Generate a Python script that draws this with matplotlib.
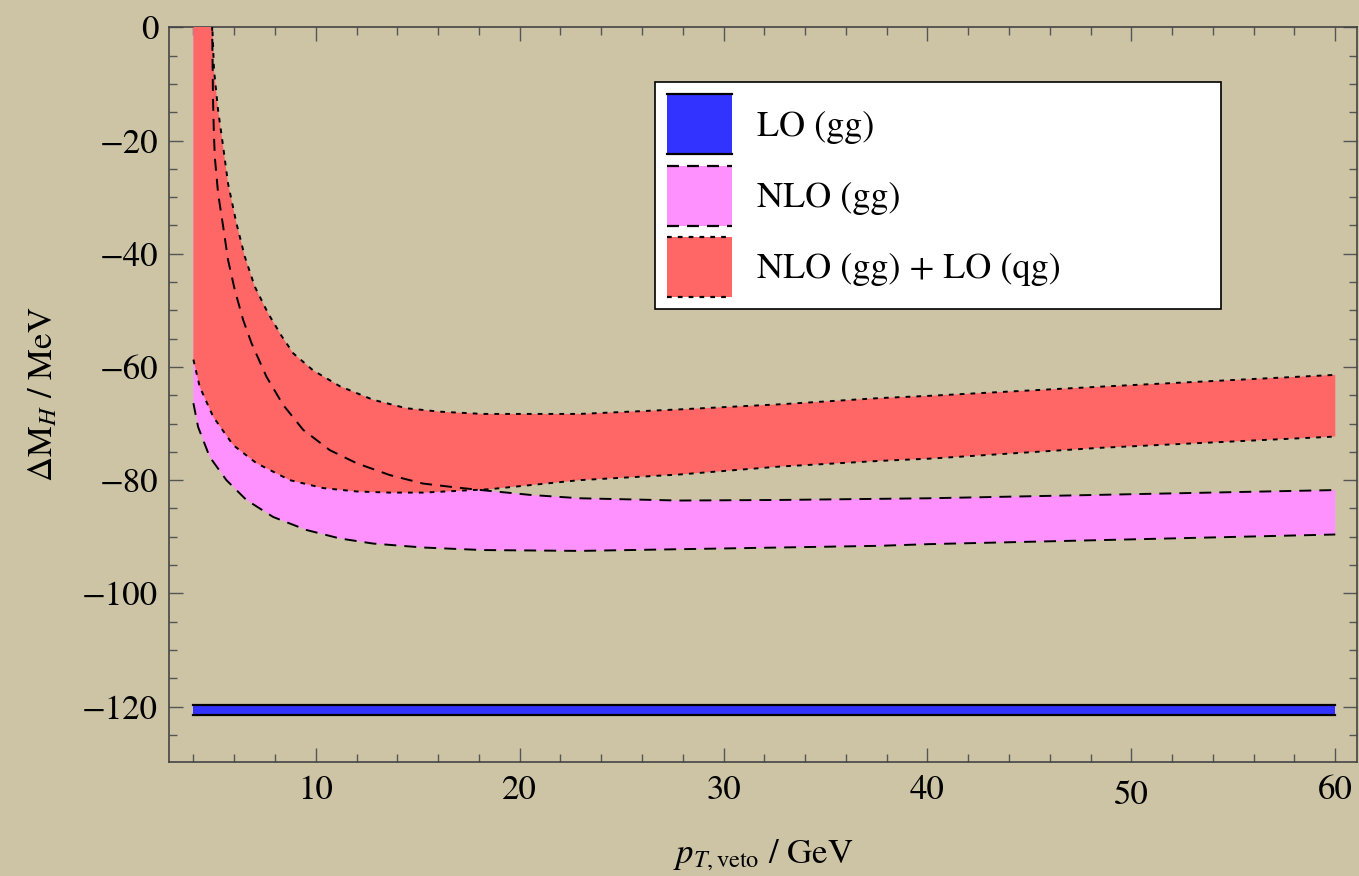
import numpy as np
import matplotlib
matplotlib.use("Agg")
import matplotlib.pyplot as plt
from matplotlib.patches import Rectangle
from matplotlib.lines import Line2D
from matplotlib.legend_handler import HandlerBase
from matplotlib.ticker import MultipleLocator

plt.rcParams['font.family'] = ['STIXGeneral', 'DejaVu Serif']
plt.rcParams['mathtext.fontset'] = 'stix'
plt.rcParams['lines.scale_dashes'] = False

# ---------------- data ----------------
# LO (gg) band
lo_x = [4.0, 60.0]
lo_upper = [-119.7, -119.7]
lo_lower = [-121.5, -121.5]

# NLO (gg) band: upper edge (long dash)
nlo_up_x = [4.0, 4.92, 4.96, 5.0, 5.05, 5.21, 5.46, 5.70, 6.03, 6.44, 6.85, 7.58, 8.40,
            9.38, 10.69, 12.0, 13.63, 15.26, 16.9, 18.53, 20.5, 22.94, 27.84,
            32.75, 37.65, 40.1, 48.4, 60.0]
nlo_up_y = [40.0, 0.0, -12.3, -18.1, -22.9, -29.3, -35.2, -41.1, -46.4, -51.7, -55.8, -61.7, -66.7,
            -71.1, -74.7, -77.0, -79.1, -80.6, -81.3, -81.9, -82.6, -83.2, -83.6,
            -83.5, -83.3, -83.2, -82.6, -81.75]
# NLO (gg) band: lower edge (long dash)
nlo_lo_x = [4.0, 4.23, 4.80, 5.62, 6.60, 7.91, 9.54, 11.18, 12.81, 15.26, 18.2, 22.94,
            27.84, 32.75, 37.65, 40.1, 48.4, 60.0]
nlo_lo_y = [-66.4, -70.6, -75.9, -80.0, -83.5, -86.5, -88.8, -90.3, -91.2, -91.9, -92.35, -92.5,
            -92.2, -91.9, -91.6, -91.3, -90.6, -89.6]

# NLO (gg) + LO (qg) band: upper edge (short dash)
qg_up_x = [4.0, 4.93, 5.01, 5.21, 5.46, 5.70, 6.11, 6.52, 7.01, 7.66, 8.32, 8.90, 9.87,
           11.18, 12.81, 14.45, 16.08, 18.2, 22.94, 27.84, 32.75, 37.65, 40.1, 48.4, 60.0]
qg_up_y = [40.0, 0.0, -7.5, -14.6, -21.1, -27.6, -34.6, -40.5, -45.8, -50.5, -54.5, -57.6, -60.6,
           -63.4, -65.8, -67.3, -67.9, -68.3, -68.3, -67.5, -66.6, -65.5, -65.1, -63.5, -61.4]
# NLO (gg) + LO (qg) band: lower edge (short dash)
qg_lo_x = [4.0, 4.31, 4.97, 5.95, 7.09, 8.73, 10.36, 12.0, 13.63, 15.26, 16.9, 18.53,
           22.94, 27.84, 32.75, 37.65, 40.1, 48.4, 60.0]
qg_lo_y = [-58.7, -63.5, -68.8, -73.8, -77.0, -80.0, -81.4, -82.0, -82.2, -82.2, -81.9, -81.6,
           -80.0, -79.0, -77.6, -76.6, -76.2, -74.3, -72.3]

labels = ["LO (gg)", "NLO (gg)", "NLO (gg) + LO (qg)"]
xticks = [10, 20, 30, 40, 50, 60]
yticks = [0, -20, -40, -60, -80, -100, -120]

# ---------------- styles ----------------
BG = '#CDC4A6'
BLUE = '#3333FF'
PINK = '#FF91FF'
RED = '#FF6666'
LONG = (0, (8.6, 5.8))
SHORT = (0, (3.4, 4.4))

fig = plt.figure(figsize=(13.59, 8.76), dpi=100, facecolor=BG)
ax = fig.add_axes([0.1246, 0.1301, 0.8737, 0.8387])
ax.set_facecolor(BG)

def band_poly(xu, yu, xl, yl):
    px = np.concatenate([np.asarray(xu, float), np.asarray(xl, float)[::-1]])
    py = np.concatenate([np.asarray(yu, float), np.asarray(yl, float)[::-1]])
    return px, py

# fills
ax.fill_between(lo_x, lo_lower, lo_upper, color=BLUE, lw=0, zorder=2)
px, py = band_poly(nlo_up_x, nlo_up_y, nlo_lo_x, nlo_lo_y)
ax.fill(px, py, color=PINK, lw=0, zorder=2)
px, py = band_poly(qg_up_x, qg_up_y, qg_lo_x, qg_lo_y)
ax.fill(px, py, color=RED, lw=0, zorder=3)

# edges
lw = 1.4
ax.plot(lo_x, lo_upper, color='black', lw=1.6, zorder=5)
ax.plot(lo_x, lo_lower, color='black', lw=1.6, zorder=5)
ax.plot(nlo_up_x, nlo_up_y, color='black', lw=lw, linestyle=LONG, zorder=5)
ax.plot(nlo_lo_x, nlo_lo_y, color='black', lw=lw, linestyle=LONG, zorder=5)
ax.plot(qg_up_x, qg_up_y, color='black', lw=lw, linestyle=SHORT, zorder=5)
ax.plot(qg_lo_x, qg_lo_y, color='black', lw=lw, linestyle=SHORT, zorder=5)

ax.set_xlim(2.82, 61.05)
ax.set_ylim(-129.8, 0)

# axes styling
for s in ax.spines.values():
    s.set_color('#444444')
    s.set_linewidth(1.2)
ax.xaxis.set_minor_locator(MultipleLocator(2))
ax.yaxis.set_minor_locator(MultipleLocator(5))
ax.set_xticks(xticks)
ax.set_yticks(yticks)
ax.set_yticklabels(['0' if v == 0 else '\u2212%d' % abs(v) for v in yticks])
ax.tick_params(which='both', direction='in', top=True, right=True,
               color='#555555', width=1.0, labelsize=25, labelcolor='black')
ax.tick_params(which='major', length=10)
ax.tick_params(which='minor', length=6)
ax.tick_params(axis='x', which='major', pad=9)
ax.tick_params(axis='y', which='major', pad=8)
for t in ax.get_xticklabels():
    if t.get_text() == '50':
        t.set_y(-0.008)

ax.set_xlabel(r'$p_{T,\mathrm{veto}}$ / GeV', fontsize=25, labelpad=18)
ax.set_ylabel(r'$\Delta\mathrm{M}_{H}$ / MeV', fontsize=25, labelpad=16)

# legend with custom swatches
class BandHandler(HandlerBase):
    def __init__(self, face, ls):
        super().__init__()
        self.face = face
        self.ls = ls
    def create_artists(self, legend, orig_handle, xdescent, ydescent, width, height, fontsize, trans):
        r = Rectangle((-xdescent, -ydescent), width, height, facecolor=self.face,
                      edgecolor='none', transform=trans)
        l1 = Line2D([-xdescent, -xdescent + width], [-ydescent + height] * 2, color='black',
                    lw=1.6, linestyle=self.ls, transform=trans)
        l2 = Line2D([-xdescent, -xdescent + width], [-ydescent] * 2, color='black',
                    lw=1.6, linestyle=self.ls, transform=trans)
        return [r, l1, l2]

h1 = Rectangle((0, 0), 1, 1)
h2 = Rectangle((0, 0), 1, 1)
h3 = Rectangle((0, 0), 1, 1)
x0 = (655 - 169.3) / 1187.4
x1 = (1221 - 169.3) / 1187.4
ytop = (762 - 82) / 734.7
ybot = (762 - 303) / 734.7
leg = ax.legend([h1, h2, h3], labels,
                handler_map={h1: BandHandler(BLUE, '-'), h2: BandHandler(PINK, LONG),
                             h3: BandHandler(RED, SHORT)},
                loc='upper left', bbox_to_anchor=(x0, ybot, x1 - x0, ytop - ybot),
                mode='expand', fontsize=26, handlelength=1.78, handleheight=2.18,
                labelspacing=0.31, handletextpad=0.7, borderpad=0.34, borderaxespad=0,
                fancybox=False, framealpha=1, edgecolor='black', facecolor='white')
leg.get_frame().set_linewidth(1.2)
leg.set_zorder(10)

fig.savefig('out.png', dpi=100, facecolor=BG)
